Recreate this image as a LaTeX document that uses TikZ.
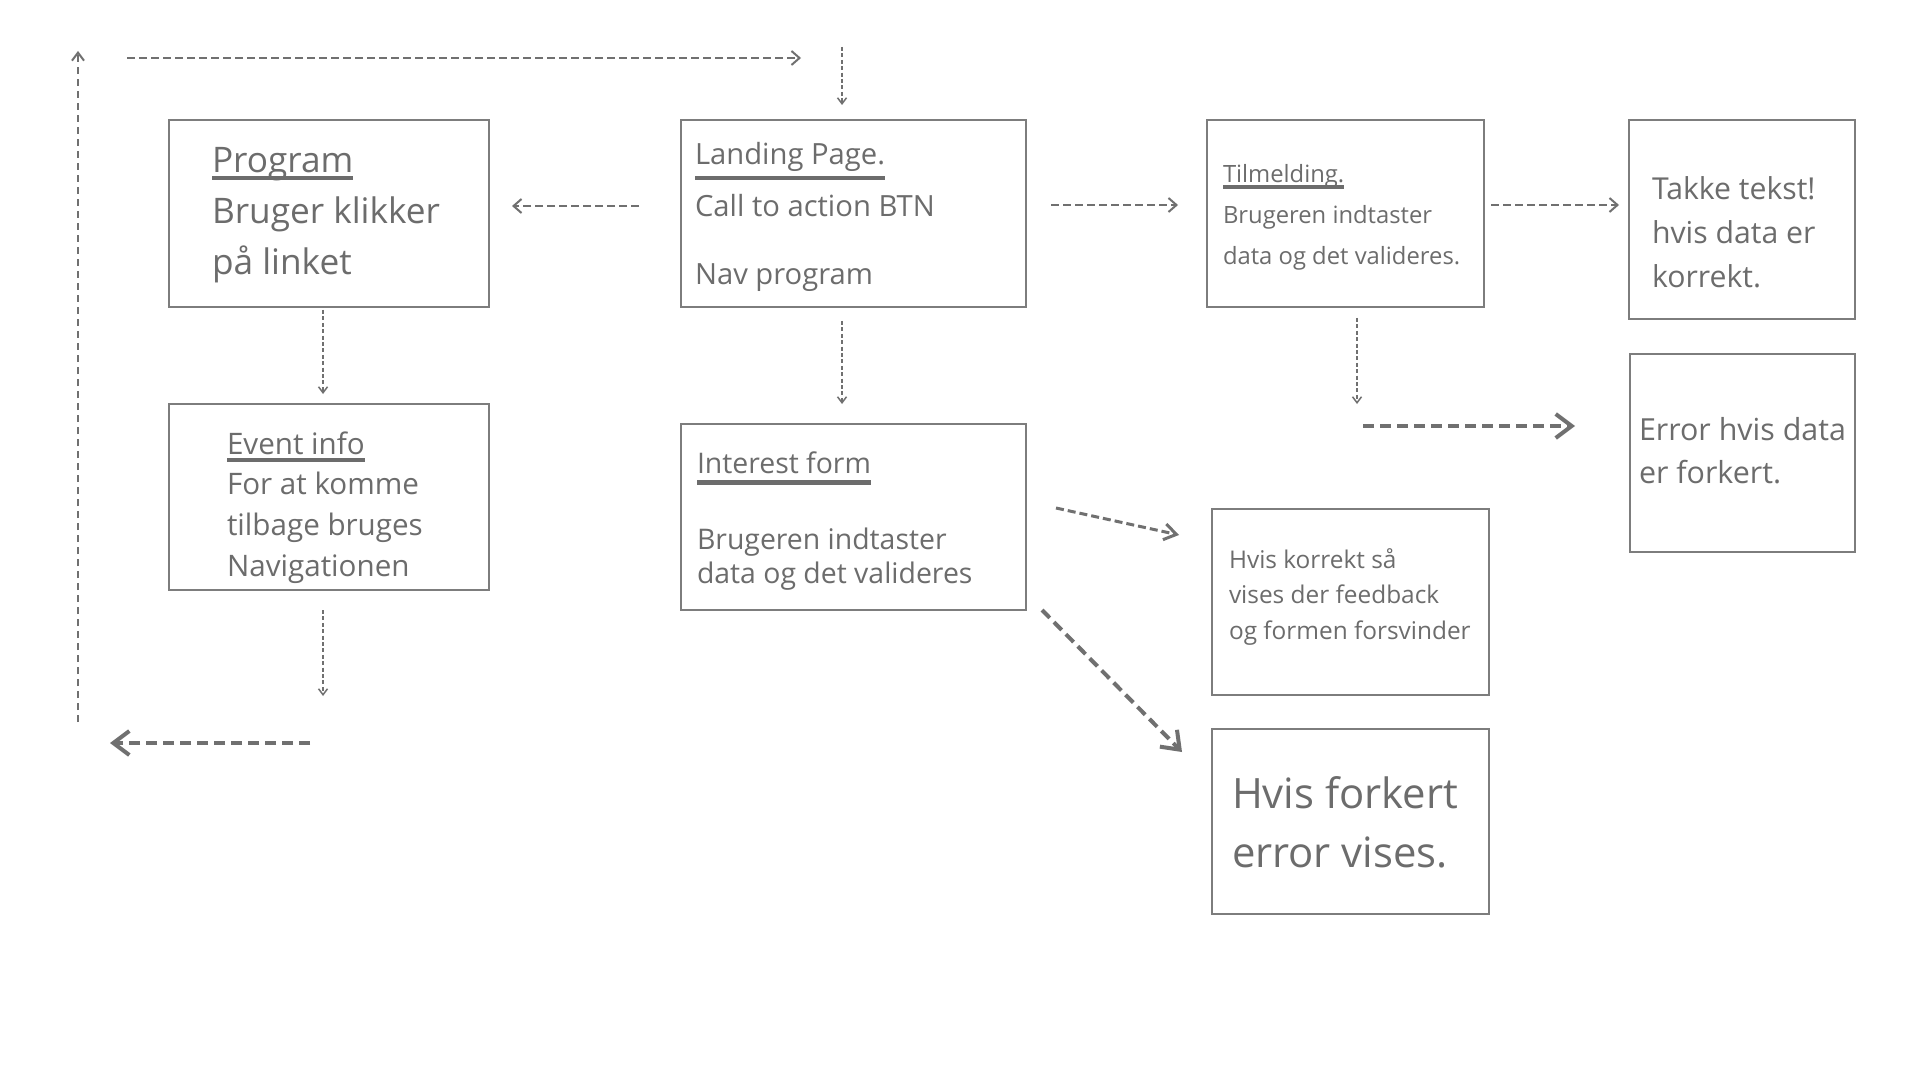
\documentclass[tikz,border=0pt]{standalone}
\usepackage{fontspec}
\setmainfont{Open Sans}
\usetikzlibrary{arrows.meta,fit}
\definecolor{boxgray}{RGB}{125,125,125}
\definecolor{txtgray}{RGB}{108,108,108}
\definecolor{arrgray}{RGB}{112,112,112}
\newcommand\ulx[3]{\setbox0\hbox{#3}\rlap{\raisebox{-#1}{\rule{\wd0}{#2}}}\box0}
\newcommand\lns[1]{\vtop{\lineskiplimit=-100pt\halign{##\hfil\cr#1\crcr}}}
\newcommand\fs[2]{\fontsize{#1}{#2}\selectfont}
\tikzset{
  box/.style={draw=boxgray, line width=0.8pt, inner sep=0pt, outer sep=0pt},
  txt/.style={anchor=base west, inner sep=0pt, outer sep=0pt, text=txtgray},
  hair/.style={draw=arrgray, line width=0.75pt, dash pattern=on 2pt off 1.2pt,
    -{Straight Barb[length=3pt,width=4.5pt]}},
  mid/.style={draw=arrgray, line width=1pt, dash pattern=on 4pt off 2pt,
    -{Straight Barb[length=4pt,width=7pt]}},
  semi/.style={draw=arrgray, line width=1.5pt, dash pattern=on 4pt off 2pt,
    -{Straight Barb[length=6pt,width=8pt]}},
  heavy/.style={draw=arrgray, line width=2pt, dash pattern=on 5.5pt off 3pt,
    -{Straight Barb[length=8pt,width=12pt]}},
}
\begin{document}
\begin{tikzpicture}[x=0.5pt,y=-0.5pt]
\fill[white] (0,0) rectangle (1920,1080);
\useasboundingbox (0,0) rectangle (1920,1080);

% boxes
\node[box, fit={(169,120) (489,307)}] (prog) {};
\node[box, fit={(681,120) (1026,307)}] (land) {};
\node[box, fit={(1207,120) (1484,307)}] (tilm) {};
\node[box, fit={(1629,120) (1855,319)}] (takk) {};
\node[box, fit={(169,404) (489,590)}] (event) {};
\node[box, fit={(681,424) (1026,610)}] (inter) {};
\node[box, fit={(1630,354) (1855,552)}] (err) {};
\node[box, fit={(1212,509) (1489,695)}] (korr) {};
\node[box, fit={(1212,729) (1489,914)}] (fork) {};

% texts
\node[txt] (progT) at (212,173) {\fs{17.6}{25.5}\lns{\ulx{3.5pt}{2pt}{Program}\cr Bruger klikker\cr på linket}};
\node[txt] (landT) at (695,165) {\fs{14.6}{26}\lns{\ulx{7.5pt}{2pt}{Landing Page.}\cr Call to action BTN\cr\noalign{\vskip 8pt} Nav program}};
\node[txt] (tilmT) at (1223,182.5) {\fs{11.9}{20.5}\lns{\ulx{3.5pt}{2pt}{Tilmelding.}\cr Brugeren indtaster\cr data og det valideres.}};
\node[txt] (takkT) at (1652,200) {\fs{15.1}{22}\lns{Takke tekst!\cr hvis data er\cr korrekt.}};
\node[txt] (eventT) at (227,454) {\fs{14.8}{20.4}\lns{\ulx{4pt}{2pt}{Event info}\cr For at komme\cr tilbage bruges\cr Navigationen}};
\node[txt] (interT) at (697,473) {\fs{14.2}{17}\lns{\ulx{6pt}{2.5pt}{Interest form}\cr\noalign{\vskip 21.25pt} Brugeren indtaster\cr data og det valideres}};
\node[txt] (errT) at (1639,440) {\fs{15.2}{21.5}\lns{Error hvis data\cr er forkert.}};
\node[txt] (korrT) at (1229,568) {\fs{12.2}{17.75}\lns{Hvis korrekt så\cr vises der feedback\cr og formen forsvinder}};
\node[txt] (forkT) at (1232,808) {\fs{20.9}{29.5}\lns{Hvis forkert\cr error vises.}};

% connector ends
\coordinate (topA) at (127,58);   \coordinate (topB) at (801,58);
\coordinate (leftA) at (78,722);  \coordinate (leftB) at (78,51);
\coordinate (dnA) at (842,47);    \coordinate (dnB) at (842,105);
\coordinate (lpA) at (639,206);   \coordinate (lpB) at (512,206);
\coordinate (ltA) at (1051,205);  \coordinate (ltB) at (1178,205);
\coordinate (ttA) at (1491,205);  \coordinate (ttB) at (1619,205);
\coordinate (pdA) at (323,310);   \coordinate (pdB) at (323,394);
\coordinate (ldA) at (842,321);   \coordinate (ldB) at (842,404);
\coordinate (tdA) at (1357,318);  \coordinate (tdB) at (1357,404);
\coordinate (teA) at (1363,426);  \coordinate (teB) at (1575,426);
\coordinate (ikA) at (1056,508);  \coordinate (ikB) at (1179,535);
\coordinate (ifA) at (1042,610);  \coordinate (ifB) at (1182,752);
\coordinate (edA) at (323,610);   \coordinate (edB) at (323,696);
\coordinate (blA) at (310,743);   \coordinate (blB) at (110,743);

% connectors
\draw[mid] (topA) -- (topB);
\draw[mid, dash pattern=on 3.5pt off 2.5pt, -{Straight Barb[length=4pt,width=6pt]}] (leftA) -- (leftB);
\draw[hair] (dnA) -- (dnB);
\draw[mid] (lpA) -- (lpB);
\draw[mid] (ltA) -- (ltB);
\draw[mid] (ttA) -- (ttB);
\draw[hair] (pdA) -- (pdB);
\draw[hair] (ldA) -- (ldB);
\draw[hair] (tdA) -- (tdB);
\draw[heavy] (teA) -- (teB);
\draw[semi] (ikA) -- (ikB);
\draw[heavy] (ifA) -- (ifB);
\draw[hair] (edA) -- (edB);
\draw[heavy] (blA) -- (blB);
\end{tikzpicture}
\end{document}
